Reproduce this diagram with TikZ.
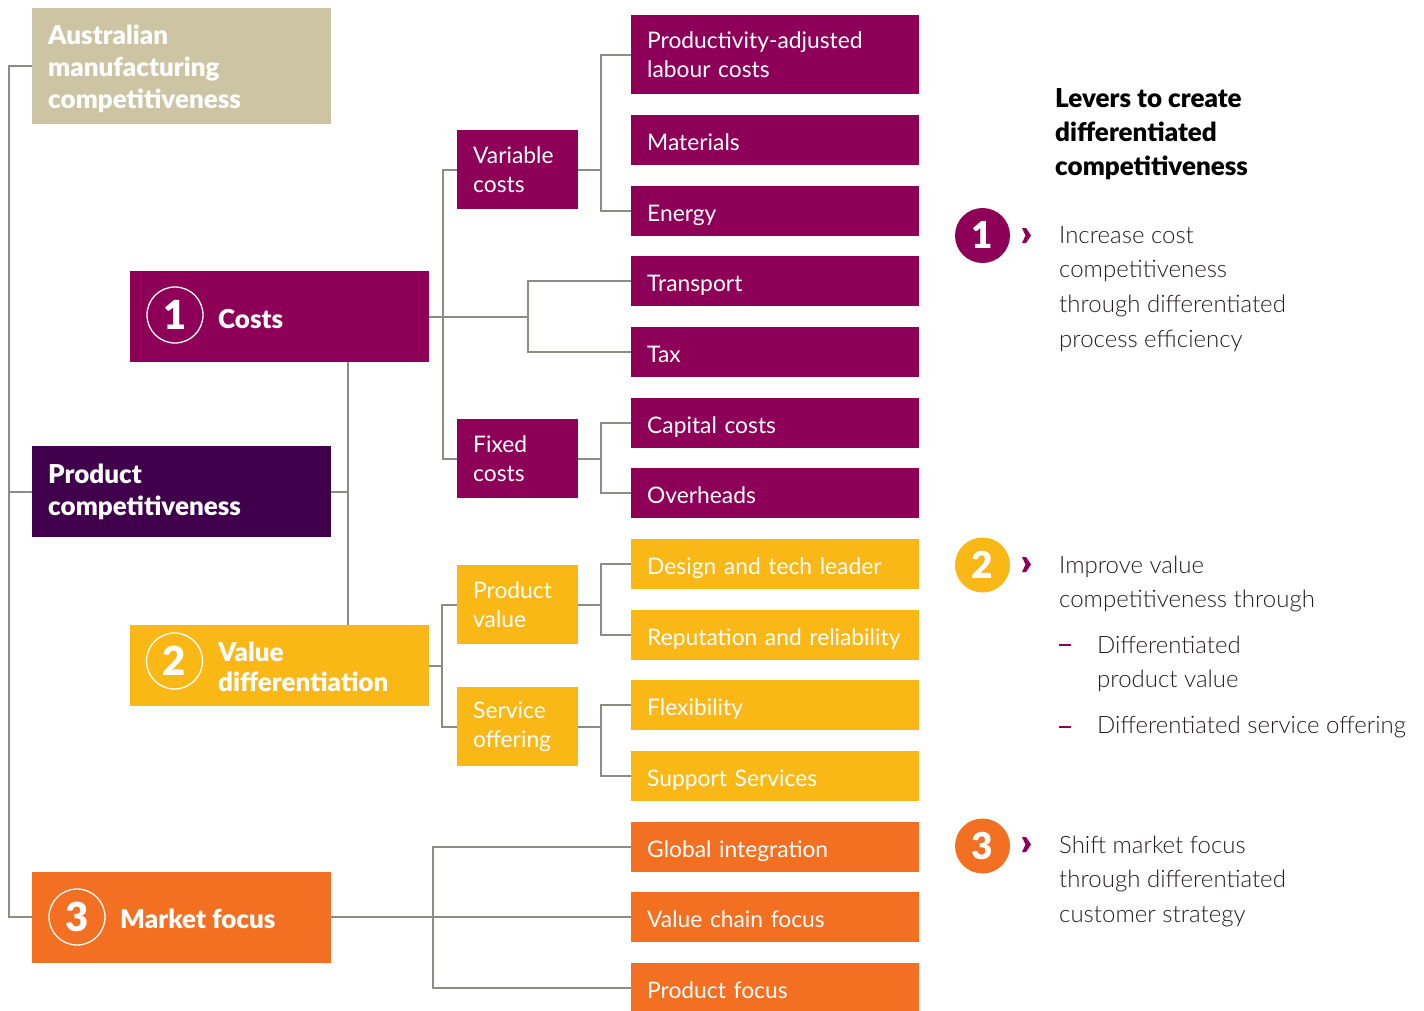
\documentclass[tikz,border=0pt]{standalone}
\usepackage{fontspec}
\setmainfont{Lato}
\newfontfamily\lightf{Lato Light}
\newfontfamily\heavyf{Lato Black}
\definecolor{tan}{HTML}{CDC4A3}
\definecolor{mag}{HTML}{8E0058}
\definecolor{dpur}{HTML}{40004B}
\definecolor{yel}{HTML}{FAB817}
\definecolor{org}{HTML}{F37023}
\definecolor{lin}{HTML}{8C8C84}
\definecolor{txt}{HTML}{231F20}
\tikzset{
 box/.style={anchor=north west, inner xsep=16pt, inner ysep=0pt, align=left, text=white},
 leafm/.style={box, minimum width=288pt, minimum height=50pt, text width=256pt, font=\fontsize{22.8}{29.5}\selectfont},
 leaf/.style={leafm, text height=20pt, text depth=0pt},
 mid/.style={box, minimum width=121pt, minimum height=79pt, text width=89pt, font=\fontsize{22.8}{29.5}\selectfont},
 main/.style={box, minimum width=299pt, minimum height=91pt, text width=267pt, font=\heavyf\fontsize{26}{32}\selectfont},
 mainlbl/.style={anchor=west, inner sep=0pt, align=left, text=white, font=\heavyf\fontsize{26}{30}\selectfont},
 conn/.style={draw=lin, line width=2pt},
 ring/.style={circle, draw=white, line width=1.3pt, minimum size=56pt, inner sep=0pt, text=white, font=\heavyf\fontsize{40}{40}\selectfont},
 badge/.style={circle, minimum size=55pt, inner sep=0pt, text=white, font=\heavyf\fontsize{37}{37}\selectfont},
 body/.style={anchor=north west, inner sep=0pt, align=left, text=txt, font=\lightf\fontsize{24}{34.8}\selectfont},
}
\begin{document}
\begin{tikzpicture}[x=1pt,y=-1pt]
\fill[white] (0,0) rectangle (1424,1010);
\useasboundingbox (0,0) rectangle (1424,1010);

% left column
\node[main, fill=tan, minimum height=116pt] (aus) at (32,8) {};
\node[mainlbl, font=\heavyf\fontsize{26}{32}\selectfont] (ausl) at (48,69) {Australian\\manufacturing\\competitiveness};
\node[main, fill=dpur] (prod) at (32,446) {Product\\competitiveness};
\node[main, fill=org, minimum height=91pt] (mkt) at (32,871.5) {};
\node[ring] (r3) at (77,917) {3};
\node[mainlbl] (mktl) at (120,919) {Market focus};

% second column
\node[main, fill=mag] (costs) at (130,271) {};
\node[ring] (r1) at (175,315) {1};
\node[mainlbl] (costsl) at (218,319) {Costs};
\node[main, fill=yel, minimum height=81pt] (vd) at (130,625) {};
\node[ring] (r2) at (174.5,661) {2};
\node[mainlbl] (vdl) at (218,667) {Value\\differentiation};

% middle column
\node[mid, fill=mag] (var) at (457,130) {Variable\\costs};
\node[mid, fill=mag] (fix) at (457,419) {Fixed\\costs};
\node[mid, fill=yel] (pv) at (457,565) {Product\\value};
\node[mid, fill=yel] (so) at (457,687) {Service\\offering};

% leaves
\node[leafm, fill=mag, minimum height=79pt] (pal) at (631,15) {Productivity-adjusted\\labour costs};
\node[leaf, fill=mag] (mat) at (631,115) {Materials};
\node[leaf, fill=mag] (en) at (631,186) {Energy};
\node[leaf, fill=mag] (tr) at (631,256) {Transport};
\node[leaf, fill=mag] (tax) at (631,327) {Tax};
\node[leaf, fill=mag] (cap) at (631,398) {Capital costs};
\node[leaf, fill=mag] (ov) at (631,468) {Overheads};
\node[leaf, fill=yel] (dt) at (631,539) {Design and tech leader};
\node[leaf, fill=yel] (rr) at (631,610) {Reputation and reliability};
\node[leaf, fill=yel] (fl) at (631,680) {Flexibility};
\node[leaf, fill=yel] (ss) at (631,751) {Support Services};
\node[leaf, fill=org] (gi) at (631,822) {Global integration};
\node[leaf, fill=org] (vc) at (631,892) {Value chain focus};
\node[leaf, fill=org] (pf) at (631,963) {Product focus};

% connectors
\draw[conn] (aus.west) -- ++(-23,0) coordinate (tk) |- (mkt.west);
\draw[conn] (prod.west) -- (prod.west -| tk);
\draw[conn] (prod.east) -- ++(17,0);
\draw[conn] ([xshift=68.5pt]costs.south) -- ([xshift=68.5pt]vd.north);
\draw[conn] (costs.east) -- ++(99,0) coordinate (cj);
\draw[conn] (tr.west) -| (cj) |- (tax.west);
\draw[conn] (var.west) -- ++(-14,0) |- (fix.west);
\draw[conn] (var.east) -- ++(23,0) coordinate (vj);
\draw[conn] (pal.west) -| (vj) |- (en.west);
\draw[conn] (fix.east) -- ++(23,0) coordinate (fj);
\draw[conn] (cap.west) -| (fj) |- (ov.west);
\draw[conn] (vd.east) -- ++(13,0) coordinate (vdj);
\draw[conn] (pv.west) -| (vdj) |- (so.west);
\draw[conn] (pv.east) -- ++(23,0) coordinate (pvj);
\draw[conn] (dt.west) -| (pvj) |- (rr.west);
\draw[conn] (so.east) -- ++(23,0) coordinate (soj);
\draw[conn] (fl.west) -| (soj) |- (ss.west);
\draw[conn] (mkt.east) -- ++(102,0) coordinate (mj) -- (vc.west);
\draw[conn] (gi.west) -| (mj) |- (pf.west);

% right panel
\node[anchor=north west, inner sep=0pt, align=left, text=black, font=\heavyf\fontsize{26}{34}\selectfont] (title) at (1055,83) {\strut Levers to create\\differentiated\\competitiveness};

\node[badge, fill=mag] (b1) at (982.5,235.5) {1};
\fill[mag] (1022,228) -- (1026,228) -- (1031,235.5) -- (1026,243) -- (1022,243) -- (1025.5,235.5) -- cycle;
\node[body] (t1) at (1059,218.5) {\strut Increase cost\\competitiveness\\through differentiated\\process efficiency};

\node[badge, fill=yel] (b2) at (982.5,565) {2};
\fill[mag] (1022,557) -- (1026,557) -- (1031,564.5) -- (1026,572) -- (1022,572) -- (1025.5,564.5) -- cycle;
\node[body] (t2) at (1059,548.5) {\strut Improve value\\competitiveness through};
\draw[mag, line width=1.2pt] (1059,645) -- (1071,645);
\node[body] (t2a) at (1097,628.5) {\strut Differentiated\\product value};
\draw[mag, line width=1.2pt] (1059,727) -- (1071,727);
\node[body] (t2b) at (1097,708.5) {\strut Differentiated service offering};

\node[badge, fill=org] (b3) at (982.5,846) {3};
\fill[mag] (1022,837) -- (1026,837) -- (1031,844.5) -- (1026,852) -- (1022,852) -- (1025.5,844.5) -- cycle;
\node[body] (t3) at (1059,828.5) {\strut Shift market focus\\through differentiated\\customer strategy};
\end{tikzpicture}
\end{document}
